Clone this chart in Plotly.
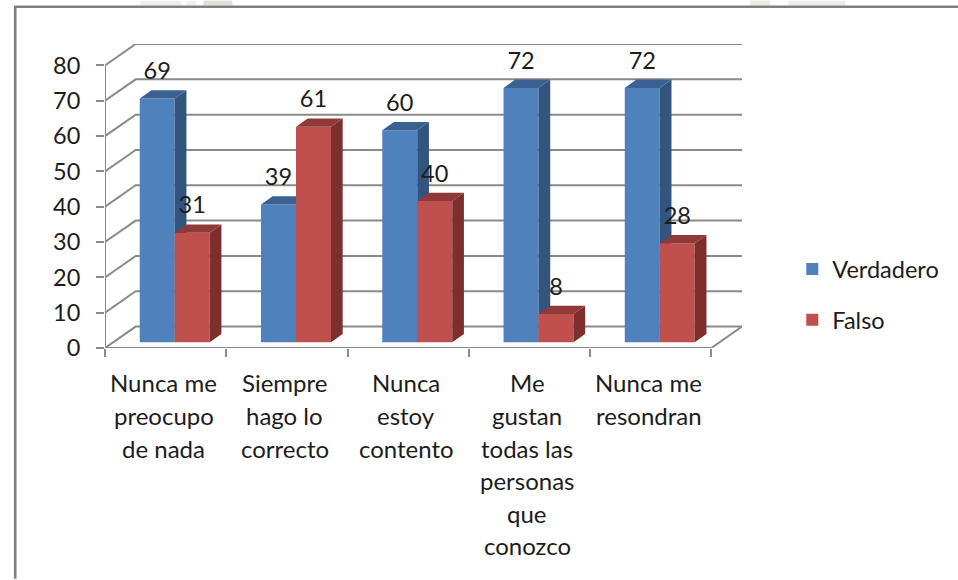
import plotly.graph_objects as go

categories = ["Nunca me preocupo de nada", "Siempre hago lo correcto", "Nunca estoy contento",
              "Me gustan todas las personas que conozco", "Nunca me resondran"]
category_lines = [["Nunca me", "preocupo", "de nada"], ["Siempre", "hago lo", "correcto"],
                  ["Nunca", "estoy", "contento"], ["Me", "gustan", "todas las", "personas", "que", "conozco"],
                  ["Nunca me", "resondran"]]
verdadero = [69, 39, 60, 72, 72]
falso = [31, 61, 40, 8, 28]
y_ticks = [0, 10, 20, 30, 40, 50, 60, 70, 80]

W, H = 958, 580
L, R, T, B = 104.5, 741.7, 43.5, 348.5
n = len(categories)
unit_x = 121.3
DX = (R - L) / unit_x - n          # depth of the chart floor, in category units
unit_y = 3.544
DY = (B - T) / unit_y - 80         # depth of the chart floor, in value units
base = 5.8 / unit_y
bar_w = 35 / unit_x
bar_dx = 11.7 / unit_x
bar_dy = 8.3 / unit_y
centre = 0.575
AX = "#8a8a8a"
TXT = "#1c1c1c"
FONT = "Lato"
FS = 23.5

fig = go.Figure()

# gridlines (floor edge + back wall), y-axis and x-axis
for v in y_ticks:
    fig.add_trace(go.Scatter(x=[0, DX, n + DX], y=[v, v + DY, v + DY], mode="lines", cliponaxis=False,
                             line=dict(color=AX, width=2), showlegend=False, hoverinfo="skip"))
fig.add_trace(go.Scatter(x=[0, 0], y=[0, 80], mode="lines", cliponaxis=False,
                         line=dict(color=AX, width=2), showlegend=False, hoverinfo="skip"))
fig.add_trace(go.Scatter(x=[0, n, n + DX], y=[0, 0, DY], mode="lines", cliponaxis=False,
                         line=dict(color=AX, width=2), showlegend=False, hoverinfo="skip"))


def add_series(name, vals, off, front, side, top, ax):
    xa, ya = ("x", "y") if ax == 1 else (f"x{ax}", f"y{ax}")
    cx = [i + centre + off for i in range(n)]
    fig.add_trace(go.Bar(x=cx, y=vals, base=[base] * n, width=bar_w, name=name, xaxis=xa, yaxis=ya,
                         legendgroup=name, marker=dict(color=front, line=dict(width=0)),
                         hovertemplate=name + ": %{y}<extra></extra>"))
    for c, v in zip(cx, vals):
        x0, x1 = c - bar_w / 2, c + bar_w / 2
        t = base + v
        fig.add_trace(go.Scatter(x=[x1, x1 + bar_dx, x1 + bar_dx, x1, x1], y=[base, base + bar_dy, t + bar_dy, t, base],
                                 mode="lines", fill="toself", fillcolor=side, line=dict(width=0), xaxis=xa, yaxis=ya,
                                 showlegend=False, hoverinfo="skip"))
        fig.add_trace(go.Scatter(x=[x0, x1, x1 + bar_dx, x0 + bar_dx, x0], y=[t, t, t + bar_dy, t + bar_dy, t],
                                 mode="lines", fill="toself", fillcolor=top, line=dict(width=0), xaxis=xa, yaxis=ya,
                                 showlegend=False, hoverinfo="skip"))


add_series("Verdadero", verdadero, -bar_w / 2, "#4F81BD", "#32547F", "#3A6191", 2)
add_series("Falso", falso, bar_w / 2, "#C0504D", "#7D2F2D", "#8F3A38", 3)

# data labels
lab_off = 17 / unit_y
for vals, off in ((verdadero, -bar_w / 2), (falso, bar_w / 2)):
    fig.add_trace(go.Scatter(x=[i + centre + off for i in range(n)],
                             y=[base + v + bar_dy + lab_off for v in vals],
                             text=[str(v) for v in vals], mode="text", textposition="middle center",
                             textfont=dict(family=FONT, size=FS, color=TXT), xaxis="x3", yaxis="y3",
                             cliponaxis=False, showlegend=False, hoverinfo="skip"))


def px(x):
    return (x - L) / (R - L)


def py(y):
    return (B - y) / (B - T)


xr = [0, n + DX]
yr = [0, 80 + DY]
annots = []
for i, lines in enumerate(category_lines):
    for j, s in enumerate(lines):
        annots.append(dict(x=i + 0.5 - 2 / unit_x, y=py(B + 35 + 32.7 * j), text=s, xref="x", yref="paper",
                           showarrow=False, xanchor="center", yanchor="middle",
                           font=dict(family=FONT, size=24, color=TXT)))

frame = dict(type="path", xref="paper", yref="paper",
             path=f"M {px(14.7)} {py(580)} L {px(14.7)} {py(6.2)} L {px(958)} {py(6.2)}",
             line=dict(color="#808080", width=2.6))


def strip(x0, x1, color):
    return dict(type="rect", xref="paper", yref="paper", x0=px(x0), x1=px(x1), y0=py(5), y1=py(0),
                fillcolor=color, line=dict(width=0), layer="below")


strips = [strip(140, 181, "#EEF0EC"), strip(186, 196, "#F1F2EF"), strip(203, 232, "#DDE3D8"),
          strip(750, 770, "#E8ECE4"), strip(788, 845, "#EDEEEB")]

hidden = dict(range=xr, overlaying="x", visible=False, fixedrange=True)
hiddeny = dict(range=yr, overlaying="y", visible=False, fixedrange=True)
fig.update_layout(
    width=W, height=H, autosize=False, margin=dict(l=L, r=W - R, t=T, b=H - B, pad=0),
    paper_bgcolor="white", plot_bgcolor="rgba(0,0,0,0)", shapes=strips + [frame], annotations=annots,
    xaxis=dict(range=xr, tickmode="array", tickvals=list(range(n + 1)), ticks="outside", ticklen=8, tickwidth=2,
               tickcolor=AX, showticklabels=False, showgrid=False, zeroline=False, showline=False),
    yaxis=dict(range=yr, tickmode="array", tickvals=y_ticks, ticks="outside", ticklen=8, tickwidth=2,
               tickcolor=AX, showgrid=False, zeroline=False, showline=False, ticklabelstandoff=11,
               tickfont=dict(family=FONT, size=FS, color=TXT)),
    xaxis2=hidden, yaxis2=hiddeny, xaxis3=hidden, yaxis3=hiddeny,
    legend=dict(x=px(792), y=py(247.5), xanchor="left", yanchor="top", tracegroupgap=17,
                bgcolor="rgba(0,0,0,0)", font=dict(family=FONT, size=FS, color=TXT)),
    font=dict(family=FONT, size=FS, color=TXT),
)
fig.write_html("out.html", post_script="document.body.style.margin='0';", config={"displayModeBar": False})
